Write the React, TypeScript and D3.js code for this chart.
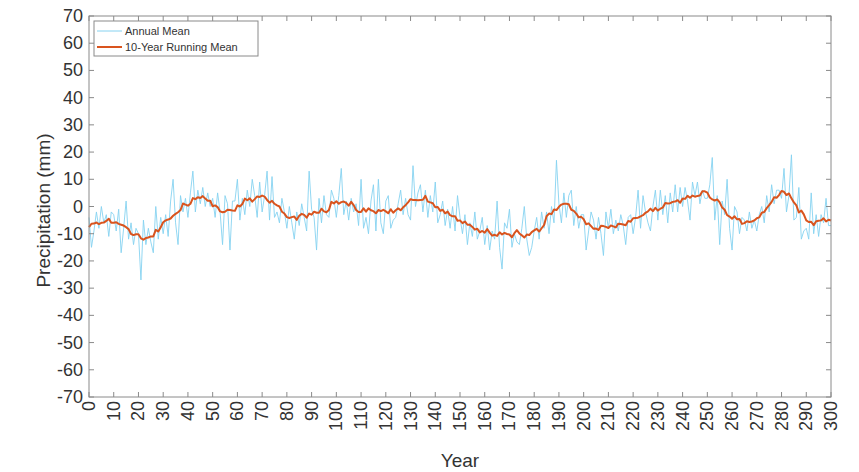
import React from 'react';
import * as d3 from 'd3';

// Annual mean precipitation anomaly (mm), years 0..300
const annualMean: number[] = [
  -4, -15, -9, -2, -8, 0, -6, -3, -11, -2,
  -3, -9, -1, -17, -8, 2, -12, -6, -14, -8,
  -10, -27, -5, -14, -8, -13, -17, 0, -12, -4,
  -10, -3, -11, 2, 10, -6, -14, 4, -2, 3,
  -4, 5, 13, -2, 6, 1, 7, 0, 5, 0,
  3, -4, 5, -2, -14, 4, 1, -16, 2, 2,
  10, -5, 3, -3, 6, 0, 10, 4, -4, 9,
  -2, 4, 13, -5, 11, -4, -2, -6, 3, -2,
  -8, 0, -6, -12, -2, -7, 1, -4, -9, 13,
  -1, -4, -16, 3, -6, 4, -3, -4, 6, 3,
  -4, 4, 14, -3, 2, -5, 3, -2, 1, -7,
  10, -8, -4, -10, 2, 8, -9, 10, -6, -10,
  2, 4, -8, -5, -4, 1, 6, -3, 3, -3,
  -5, 15, 0, 5, 8, -2, 6, -4, 4, -2,
  9, -6, -3, 2, -7, -1, -8, 0, -9, 4,
  -4, -10, -3, -14, -6, -11, -2, -12, -9, -4,
  -14, -7, -16, -9, -12, 2, -15, -23, -6, -8,
  -1, -15, -10, -13, -14, -8, 0, -12, -18, -15,
  -9, -4, -12, -2, -8, -2, -10, 0, -6, 17,
  1, -6, 5, -4, 4, 6, -7, 0, -8, -3,
  -3, -16, -9, -2, -5, -12, -4, -10, -18, -2,
  -8, -1, -10, -5, -9, -3, -7, -14, -4, -3,
  -10, -4, 6, -8, 4, -2, -6, -9, 0, 6,
  -5, 6, -3, 4, -6, 5, -2, 8, -2, 7,
  0, 7, 2, -5, 9, 4, 9, 1, 6, 3,
  3, 8, 18, -5, 4, -14, 2, -3, 10, -8,
  -16, 0, -2, -10, -4, -5, -9, -2, -8, -5,
  -9, -3, 0, -6, 4, -2, 8, 1, 6, 6,
  3, 14, -2, 4, 19, -5, -4, 7, -12, -9,
  -8, -12, 5, -10, -3, -11, -3, -6, 3, -7,
  -7,
];

const startYear = 0;
const windowYears = 10;

const xTickLabels: number[] = [0, 10, 20, 30, 40, 50, 60, 70, 80, 90, 100, 110, 120, 130, 140, 150, 160, 170, 180, 190, 200, 210, 220, 230, 240, 250, 260, 270, 280, 290, 300];
const yTickLabels: number[] = [70, 60, 50, 40, 30, 20, 10, 0, -10, -20, -30, -40, -50, -60, -70];

const legendLabels: string[] = ['Annual Mean', '10-Year Running Mean'];

// centered moving mean (window of 10: 5 before, 4 after), shrinking at the ends
function movingMean(v: number[], w: number): number[] {
  const before = Math.floor(w / 2);
  const after = w - before - 1;
  return v.map((_, i) => {
    const lo = Math.max(0, i - before);
    const hi = Math.min(v.length - 1, i + after);
    return d3.mean(v.slice(lo, hi + 1)) as number;
  });
}

const W = 859;
const H = 472;
const L = 89, R = 831, T = 16, B = 397;

export default function App() {
  const x = d3.scaleLinear().domain([0, 300]).range([L, R]);
  const y = d3.scaleLinear().domain([-70, 70]).range([B, T]);
  const running = movingMean(annualMean, windowYears);
  const pts = annualMean.map((v, i) => ({ yr: startYear + i, v, r: running[i] }));
  const lineA = d3.line<any>().x(d => x(d.yr)).y(d => y(d.v));
  const lineR = d3.line<any>().x(d => x(d.yr)).y(d => y(d.r));
  const axisColor = '#8a8a8a';
  const textColor = '#333333';
  const font = 'Liberation Sans, Arial, sans-serif';
  const tick = 5;
  return (
    <svg width={W} height={H} style={{ position: 'absolute', left: 0, top: 0, background: '#fff' }} fontFamily={font}>
      <rect x={0} y={0} width={W} height={H} fill="#fff" />
      {/* data */}
      <path d={lineA(pts) || ''} fill="none" stroke="#86d2f0" strokeWidth={0.9} />
      <path d={lineR(pts) || ''} fill="none" stroke="#d9541e" strokeWidth={2} strokeLinejoin="round" />
      {/* box */}
      <rect x={L} y={T} width={R - L} height={B - T} fill="none" stroke={axisColor} strokeWidth={1} />
      {xTickLabels.map(t => (
        <g key={'xt' + t}>
          <line x1={x(t)} x2={x(t)} y1={B} y2={B - tick} stroke={axisColor} />
          <line x1={x(t)} x2={x(t)} y1={T} y2={T + tick} stroke={axisColor} />
          <text transform={`translate(${x(t)},${B + 4}) rotate(-90)`} textAnchor="end" dominantBaseline="central" fontSize={18} fill={textColor}>{t}</text>
        </g>
      ))}
      {yTickLabels.map(t => (
        <g key={'yt' + t}>
          <line x1={L} x2={L + tick} y1={y(t)} y2={y(t)} stroke={axisColor} />
          <line x1={R} x2={R - tick} y1={y(t)} y2={y(t)} stroke={axisColor} />
          <text x={L - 6} y={y(t)} textAnchor="end" dominantBaseline="central" fontSize={18} fill={textColor}>{t}</text>
        </g>
      ))}
      <text x={(L + R) / 2} y={467} textAnchor="middle" fontSize={19} fill={textColor}>Year</text>
      <text transform={`translate(50,${(T + B) / 2 + 4}) rotate(-90)`} textAnchor="middle" fontSize={19} fill={textColor}>Precipitation (mm)</text>
      {/* legend */}
      <g>
        <rect x={94} y={21} width={164} height={35} fill="#fff" stroke="#8a8a8a" strokeWidth={1} />
        <line x1={97} x2={122} y1={31} y2={31} stroke="#86d2f0" strokeWidth={1} />
        <text x={125} y={31} dominantBaseline="central" fontSize={11} fill={textColor}>{legendLabels[0]}</text>
        <line x1={97} x2={122} y1={47} y2={47} stroke="#d9541e" strokeWidth={2} />
        <text x={125} y={47} dominantBaseline="central" fontSize={11} fill={textColor}>{legendLabels[1]}</text>
      </g>
    </svg>
  );
}
